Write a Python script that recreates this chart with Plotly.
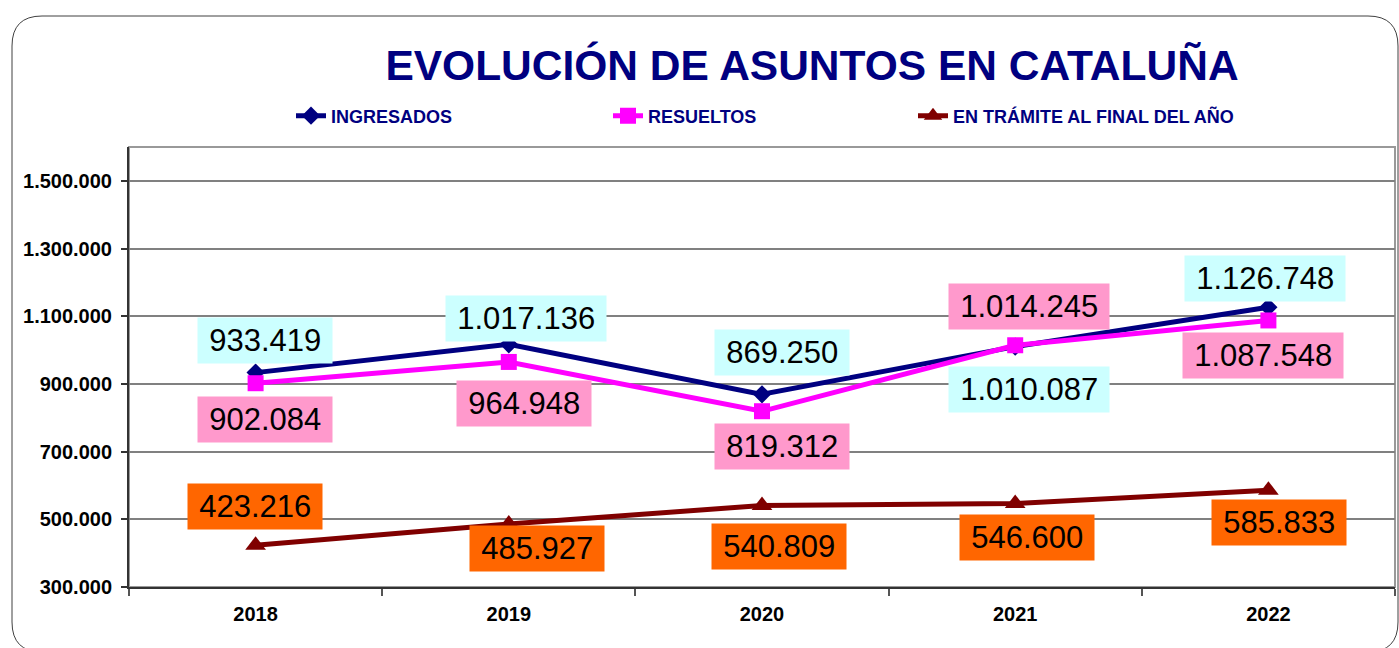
import plotly.graph_objects as go

years = ["2018", "2019", "2020", "2021", "2022"]
ingresados = [933419, 1017136, 869250, 1010087, 1126748]
resueltos = [902084, 964948, 819312, 1014245, 1087548]
en_tramite = [423216, 485927, 540809, 546600, 585833]

# data-label texts as printed in the chart
ing_labels = ["933.419", "1.017.136", "869.250", "1.010.087", "1.126.748"]
res_labels = ["902.084", "964.948", "819.312", "1.014.245", "1.087.548"]
tra_labels = ["423.216", "485.927", "540.809", "546.600", "585.833"]

names = ["INGRESADOS", "RESUELTOS", "EN TRÁMITE AL FINAL DEL AÑO"]
title_text = "EVOLUCIÓN DE ASUNTOS EN CATALUÑA"

# label offsets (px) relative to the point
ing_off = [(9, 32), (17, 26), (20, 42), (14, -43), (-3, 29)]
res_off = [(9, -36), (15, -42), (20, -35), (14, 39), (-5, -35)]
tra_off = [(-1, 39), (28, -24), (17, -41), (12, -34), (11, -32)]

FONT = "Liberation Sans, Arial, sans-serif"
PAD = "\u2009"

L, R, T, B = 129, 4, 147, 61
W, H = 1399, 648
pw, ph = W - L - R, H - T - B

def px(x):
    return (x - L) / pw

def py(y):
    return 1 - (y - T) / ph

fig = go.Figure()
fig.add_trace(go.Scatter(x=years, y=ingresados, name="<b>" + names[0] + "</b>", mode="lines+markers",
                         line=dict(color="#000080", width=5),
                         marker=dict(symbol="diamond", size=14, color="#000080"),
                         cliponaxis=False, legend="legend"))
fig.add_trace(go.Scatter(x=years, y=resueltos, name="<b>" + names[1] + "</b>", mode="lines+markers",
                         line=dict(color="#FF00FF", width=5),
                         marker=dict(symbol="square", size=16, color="#FF00FF"),
                         cliponaxis=False, legend="legend2"))
fig.add_trace(go.Scatter(x=years, y=en_tramite, name="<b>" + names[2] + "</b>", mode="lines+markers",
                         line=dict(color="#800000", width=5),
                         marker=dict(symbol="triangle-up", size=18, color="#800000"),
                         cliponaxis=False, legend="legend3"))

annotations = []
for vals, labs, offs, bg in [(ingresados, ing_labels, ing_off, "#CCFFFF"),
                              (resueltos, res_labels, res_off, "#FF99CC"),
                              (en_tramite, tra_labels, tra_off, "#FF6600")]:
    for i, (yv, t, (dx, dy)) in enumerate(zip(vals, labs, offs)):
        annotations.append(dict(x=i, y=yv, xref="x", yref="y", text=PAD + t + PAD, showarrow=False,
                                xshift=dx, yshift=dy, bgcolor=bg, borderpad=5,
                                font=dict(family=FONT, size=31, color="#000000")))

x0, x1, yt, yb = px(12), px(1398), py(16), py(652)
rx, ry = 30 / pw, 30 / ph
border_path = (f"M {x0},{yb+ry} L {x0},{yt-ry} Q {x0},{yt} {x0+rx},{yt} "
               f"L {x1-rx},{yt} Q {x1},{yt} {x1},{yt-ry} L {x1},{yb+ry} "
               f"Q {x1},{yb} {x1-rx},{yb} L {x0+rx},{yb} Q {x0},{yb} {x0},{yb+ry} Z")

def leg(xpix):
    return dict(orientation="h", x=px(xpix), xanchor="left", y=py(116), yanchor="middle",
                font=dict(size=18, color="#000080", family=FONT),
                bgcolor="rgba(0,0,0,0)")

fig.update_layout(
    width=W, height=H,
    margin=dict(l=L, r=R, t=T, b=B, autoexpand=False),
    paper_bgcolor="white", plot_bgcolor="white",
    separators=",.",
    font=dict(family=FONT, color="#000000"),
    title=dict(text="<b>" + title_text + "</b>", x=px(812), xref="paper", xanchor="center",
               y=1 - 65 / H, yref="container", yanchor="middle",
               font=dict(size=42.5, color="#000080")),
    legend=leg(291), legend2=leg(608), legend3=leg(913),
    showlegend=True,
    annotations=annotations,
    shapes=[
        dict(type="path", path=border_path, xref="paper", yref="paper",
             line=dict(color="#404040", width=1), fillcolor="rgba(0,0,0,0)", layer="below"),
        dict(type="rect", x0=0, x1=1, y0=0, y1=1, xref="paper", yref="paper",
             line=dict(color="#999999", width=2), fillcolor="rgba(0,0,0,0)", layer="below"),
    ],
)

fig.update_xaxes(type="category", range=[-0.5, len(years) - 0.5], autorange=False,
                 showgrid=False, showline=True, linecolor="#333333", linewidth=2,
                 ticks="outside", tickson="boundaries", ticklen=7, tickcolor="#555555", tickwidth=2,
                 tickangle=0, automargin=False, ticklabelstandoff=8,
                 tickfont=dict(size=20, color="#000000"), tickprefix="<b>", ticksuffix="</b>",
                 zeroline=False)
fig.update_yaxes(range=[300000, 1600000], autorange=False, tick0=300000, dtick=200000, tickformat=",d",
                 showgrid=True, gridcolor="#808080", gridwidth=1.5, automargin=False,
                 showline=True, linecolor="#333333", linewidth=2, ticklabelstandoff=5,
                 ticks="outside", ticklen=6, tickcolor="#333333", tickwidth=1.5,
                 tickfont=dict(size=20, color="#000000"), tickprefix="<b>", ticksuffix="</b>",
                 zeroline=False)

fig.write_html("out.html", config={"displayModeBar": False},
               post_script="document.body.style.margin='0px';")
